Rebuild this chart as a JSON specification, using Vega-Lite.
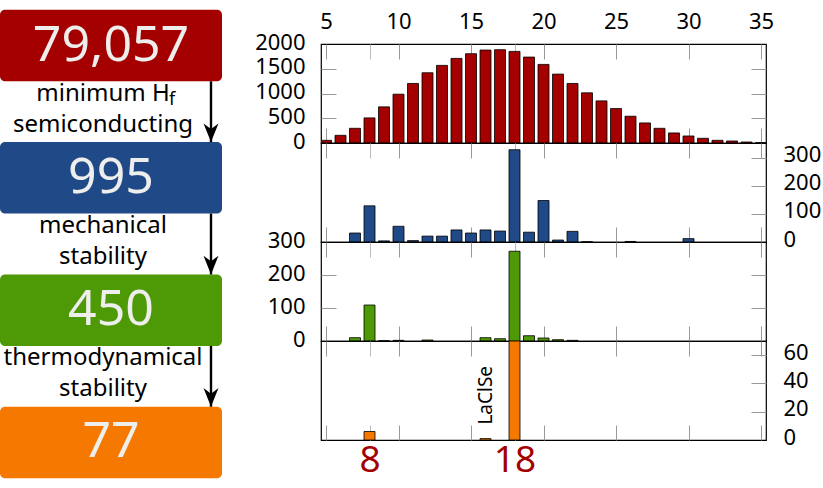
{
  "$schema": "https://vega.github.io/schema/vega-lite/v6.json",
  "padding": {"left": 0, "top": 0, "right": 57, "bottom": 0},
  "background": "white",
  "bounds": "flush",
  "spacing": 99,
  "config": {
    "font": "Noto Sans",
    "view": {"stroke": "#000", "strokeWidth": 1.2},
    "axis": {"labelFont": "Noto Sans", "labelFontSize": 22, "labelColor": "#000", "domain": false, "grid": false, "title": null, "tickColor": "#999", "tickWidth": 1, "tickSize": -15, "labelFlush": false, "labelOverlap": false, "labelBound": false, "format": "d"}
  },
  "datasets": {
    "boxes": [
      {"stage": "1", "count": "79,057"},
      {"stage": "2", "count": "995"},
      {"stage": "3", "count": "450"},
      {"stage": "4", "count": "77"}
    ],
    "steps": [
      {"stage": "1", "col": "text", "label": "minimum H\nsemiconducting", "sub": "f"},
      {"stage": "2", "col": "text", "label": "mechanical\nstability", "sub": ""},
      {"stage": "3", "col": "text", "label": "thermodynamical\nstability", "sub": ""}
    ],
    "arrows": [
      {"from": "1", "to": "2", "col": "arrow"},
      {"from": "2", "to": "3", "col": "arrow"},
      {"from": "3", "to": "4", "col": "arrow"}
    ],
    "red": [
      {"n": 5, "count": 54}, {"n": 6, "count": 155}, {"n": 7, "count": 297}, {"n": 8, "count": 507},
      {"n": 9, "count": 730}, {"n": 10, "count": 986}, {"n": 11, "count": 1203}, {"n": 12, "count": 1419},
      {"n": 13, "count": 1568}, {"n": 14, "count": 1709}, {"n": 15, "count": 1804}, {"n": 16, "count": 1878},
      {"n": 17, "count": 1885}, {"n": 18, "count": 1851}, {"n": 19, "count": 1736}, {"n": 20, "count": 1588},
      {"n": 21, "count": 1392}, {"n": 22, "count": 1203}, {"n": 23, "count": 1014}, {"n": 24, "count": 851},
      {"n": 25, "count": 696}, {"n": 26, "count": 541}, {"n": 27, "count": 405}, {"n": 28, "count": 297},
      {"n": 29, "count": 203}, {"n": 30, "count": 142}, {"n": 31, "count": 95}, {"n": 32, "count": 54},
      {"n": 33, "count": 41}, {"n": 34, "count": 20}, {"n": 35, "count": 7}
    ],
    "blue": [
      {"n": 7, "count": 32}, {"n": 8, "count": 129}, {"n": 9, "count": 4}, {"n": 10, "count": 56},
      {"n": 11, "count": 5}, {"n": 12, "count": 21}, {"n": 13, "count": 21}, {"n": 14, "count": 43},
      {"n": 15, "count": 32}, {"n": 16, "count": 43}, {"n": 17, "count": 39}, {"n": 18, "count": 329},
      {"n": 19, "count": 35}, {"n": 20, "count": 148}, {"n": 21, "count": 7}, {"n": 22, "count": 38},
      {"n": 23, "count": 1}, {"n": 26, "count": 2}, {"n": 30, "count": 12}
    ],
    "green": [
      {"n": 7, "count": 10}, {"n": 8, "count": 109}, {"n": 9, "count": 1}, {"n": 10, "count": 2},
      {"n": 12, "count": 3}, {"n": 16, "count": 10}, {"n": 17, "count": 7}, {"n": 18, "count": 272},
      {"n": 19, "count": 16}, {"n": 20, "count": 9}, {"n": 21, "count": 4}, {"n": 22, "count": 2}
    ],
    "orange": [
      {"n": 8, "count": 6, "label": ""}, {"n": 16, "count": 1, "label": "LaClSe"}, {"n": 18, "count": 70, "label": ""}
    ]
  },
  "hconcat": [
    {
      "width": 222,
      "height": 488,
      "view": {"stroke": null},
      "layer": [
        {
          "data": {"name": "boxes"},
          "mark": {"type": "rect", "cornerRadius": 5},
          "encoding": {
            "y": {"field": "stage", "type": "nominal", "scale": {"type": "band", "paddingInner": 0.46, "paddingOuter": 0.074}, "axis": null},
            "fill": {"field": "stage", "type": "nominal", "scale": {"domain": ["1", "2", "3", "4"], "range": ["#a40000", "#204a87", "#4e9a06", "#f57900"]}, "legend": null}
          }
        },
        {
          "data": {"name": "boxes"},
          "mark": {"type": "text", "fontSize": 50, "color": "#eeeeec", "baseline": "middle"},
          "encoding": {
            "y": {"field": "stage", "type": "nominal", "axis": null},
            "text": {"field": "count"}
          }
        },
        {
          "data": {"name": "steps"},
          "mark": {"type": "text", "fontSize": 24, "baseline": "alphabetic", "lineBreak": "\n", "lineHeight": 31, "color": "#000"},
          "encoding": {
            "x": {"field": "col", "type": "nominal", "scale": {"type": "point", "domain": ["text", "arrow"], "padding": 0.5278, "align": 0.9035}, "axis": null},
            "y": {"field": "stage", "type": "nominal", "bandPosition": 1.27, "axis": null},
            "text": {"field": "label"}
          }
        },
        {
          "data": {"name": "steps"},
          "mark": {"type": "text", "fontSize": 18, "baseline": "alphabetic", "align": "left", "dx": 66, "dy": 4, "color": "#000"},
          "encoding": {
            "x": {"field": "col", "type": "nominal", "axis": null},
            "y": {"field": "stage", "type": "nominal", "bandPosition": 1.27, "axis": null},
            "text": {"field": "sub"}
          }
        },
        {
          "data": {"name": "arrows"},
          "mark": {"type": "rule", "strokeWidth": 2.4, "color": "#000"},
          "encoding": {
            "x": {"field": "col", "type": "nominal", "axis": null},
            "y": {"field": "from", "type": "nominal", "bandPosition": 1, "axis": null},
            "y2": {"field": "to", "bandPosition": 0}
          }
        },
        {
          "data": {"name": "arrows"},
          "mark": {"type": "point", "shape": "M0,0L-0.4,-1L0,-0.7L0.4,-1Z", "size": 1400, "filled": true, "color": "#000", "opacity": 1},
          "encoding": {
            "x": {"field": "col", "type": "nominal", "axis": null},
            "y": {"field": "to", "type": "nominal", "bandPosition": 0, "axis": null}
          }
        }
      ]
    },
    {
      "spacing": 0,
      "bounds": "flush",
      "vconcat": [
        {
          "width": 445,
          "height": 44,
          "view": {"stroke": null},
          "data": {"values": [{}]},
          "mark": {"type": "text"},
          "encoding": {"text": {"value": ""}}
        },
        {
          "width": 445,
          "height": 99,
          "data": {"name": "red"},
          "layer": [
            {
              "mark": {"type": "bar", "orient": "vertical", "width": 11, "fill": "#a40000", "stroke": "#000", "strokeWidth": 0.8, "clip": true},
              "encoding": {
                "x": {"field": "n", "type": "quantitative", "scale": {"domain": [5, 35], "nice": false, "zero": false},
                  "axis": {"orient": "top", "values": [5, 8, 10, 15, 18, 20, 25, 30, 35], "labelFlush": false, "labelExpr": "datum.value==8||datum.value==18?'':datum.label", "labelPadding": 26, "tickColor": {"condition": {"test": "datum.value==8||datum.value==18", "value": "#bbb"}, "value": "#999"}}},
                "y": {"field": "count", "type": "quantitative", "stack": null, "scale": {"domain": [0, 2000], "nice": false},
                  "axis": {"orient": "left", "values": [0, 500, 1000, 1500, 2000], "labelFlush": false, "labelPadding": 31, "labelOffset": -2, "tickOpacity": {"condition": {"test": "datum.value==0||datum.value==2000", "value": 0}, "value": 1}}}
              }
            },
            {
              "mark": {"type": "bar", "orient": "vertical", "width": 11, "opacity": 0, "clip": true},
              "encoding": {
                "x": {"field": "n", "type": "quantitative", "axis": {"orient": "bottom", "values": [5, 8, 10, 15, 18, 20, 25, 30, 35], "labels": false, "tickColor": {"condition": {"test": "datum.value==8||datum.value==18", "value": "#bbb"}, "value": "#999"}}},
                "y": {"field": "count", "type": "quantitative", "stack": null, "axis": {"orient": "right", "values": [0, 500, 1000, 1500, 2000], "labels": false, "tickOpacity": {"condition": {"test": "datum.value==0||datum.value==2000", "value": 0}, "value": 1}}}
              }
            }
          ]
        },
        {
          "width": 445,
          "height": 99,
          "data": {"name": "blue"},
          "layer": [
            {
              "mark": {"type": "bar", "orient": "vertical", "width": 11, "fill": "#204a87", "stroke": "#000", "strokeWidth": 0.8, "clip": true},
              "encoding": {
                "x": {"field": "n", "type": "quantitative", "scale": {"domain": [5, 35], "nice": false, "zero": false},
                  "axis": {"orient": "top", "values": [5, 8, 10, 15, 18, 20, 25, 30, 35], "labels": false, "tickColor": {"condition": {"test": "datum.value==8||datum.value==18", "value": "#bbb"}, "value": "#999"}}},
                "y": {"field": "count", "type": "quantitative", "stack": null, "scale": {"domain": [0, 353], "nice": false},
                  "axis": {"orient": "right", "values": [0, 100, 200, 300], "labelFlush": false, "labelPadding": 32, "labelOffset": -3, "tickOpacity": {"condition": {"test": "datum.value==0", "value": 0}, "value": 1}}}
              }
            },
            {
              "mark": {"type": "bar", "orient": "vertical", "width": 11, "opacity": 0, "clip": true},
              "encoding": {
                "x": {"field": "n", "type": "quantitative", "axis": {"orient": "bottom", "values": [5, 8, 10, 15, 18, 20, 25, 30, 35], "labels": false, "tickColor": {"condition": {"test": "datum.value==8||datum.value==18", "value": "#bbb"}, "value": "#999"}}},
                "y": {"field": "count", "type": "quantitative", "stack": null, "axis": {"orient": "left", "labels": false, "ticks": false}}
              }
            }
          ]
        },
        {
          "width": 445,
          "height": 99,
          "data": {"name": "green"},
          "layer": [
            {
              "mark": {"type": "bar", "orient": "vertical", "width": 11, "fill": "#4e9a06", "stroke": "#000", "strokeWidth": 0.8, "clip": true},
              "encoding": {
                "x": {"field": "n", "type": "quantitative", "scale": {"domain": [5, 35], "nice": false, "zero": false},
                  "axis": {"orient": "top", "values": [5, 8, 10, 15, 18, 20, 25, 30, 35], "labels": false, "tickColor": {"condition": {"test": "datum.value==8||datum.value==18", "value": "#bbb"}, "value": "#999"}}},
                "y": {"field": "count", "type": "quantitative", "stack": null, "scale": {"domain": [0, 300], "nice": false},
                  "axis": {"orient": "left", "values": [0, 100, 200, 300], "labelFlush": false, "labelPadding": 31, "labelOffset": -2, "tickOpacity": {"condition": {"test": "datum.value==0||datum.value==300", "value": 0}, "value": 1}}}
              }
            },
            {
              "mark": {"type": "bar", "orient": "vertical", "width": 11, "opacity": 0, "clip": true},
              "encoding": {
                "x": {"field": "n", "type": "quantitative", "axis": {"orient": "bottom", "values": [5, 8, 10, 15, 18, 20, 25, 30, 35], "labels": false, "tickColor": {"condition": {"test": "datum.value==8||datum.value==18", "value": "#bbb"}, "value": "#999"}}},
                "y": {"field": "count", "type": "quantitative", "stack": null, "axis": {"orient": "right", "values": [0, 100, 200, 300], "labels": false, "tickOpacity": {"condition": {"test": "datum.value==0||datum.value==300", "value": 0}, "value": 1}}}
              }
            }
          ]
        },
        {
          "width": 445,
          "height": 99,
          "data": {"name": "orange"},
          "layer": [
            {
              "mark": {"type": "bar", "orient": "vertical", "width": 11, "fill": "#f57900", "stroke": "#000", "strokeWidth": 0.8, "clip": true},
              "encoding": {
                "x": {"field": "n", "type": "quantitative", "scale": {"domain": [5, 35], "nice": false, "zero": false},
                  "axis": {"orient": "top", "values": [5, 8, 10, 15, 18, 20, 25, 30, 35], "labels": false, "tickColor": {"condition": {"test": "datum.value==8||datum.value==18", "value": "#bbb"}, "value": "#999"}}},
                "y": {"field": "count", "type": "quantitative", "stack": null, "scale": {"domain": [0, 70], "nice": false},
                  "axis": {"orient": "right", "values": [0, 20, 40, 60], "labelFlush": false, "labelPadding": 32, "labelOffset": -3, "tickOpacity": {"condition": {"test": "datum.value==0", "value": 0}, "value": 1}}}
              }
            },
            {
              "mark": {"type": "bar", "orient": "vertical", "width": 11, "opacity": 0, "clip": true},
              "encoding": {
                "x": {"field": "n", "type": "quantitative", "axis": {"orient": "bottom", "values": [5, 8, 10, 15, 18, 20, 25, 30, 35], "labelFlush": false, "labelExpr": "datum.value==8||datum.value==18?datum.label:''", "labelColor": "#a40000", "labelFontSize": 37, "labelPadding": 17, "tickColor": {"condition": {"test": "datum.value==8||datum.value==18", "value": "#bbb"}, "value": "#999"}}},
                "y": {"field": "count", "type": "quantitative", "stack": null, "axis": {"orient": "left", "labels": false, "ticks": false}}
              }
            },
            {
              "transform": [{"filter": "datum.label != ''"}],
              "mark": {"type": "text", "angle": 270, "align": "left", "baseline": "middle", "dx": 14, "fontSize": 19, "color": "#000"},
              "encoding": {
                "x": {"field": "n", "type": "quantitative", "axis": {"orient": "top", "labels": false, "ticks": false}},
                "y": {"field": "count", "type": "quantitative", "axis": {"orient": "left", "labels": false, "ticks": false}},
                "text": {"field": "label"}
              }
            }
          ]
        }
      ]
    }
  ]
}
